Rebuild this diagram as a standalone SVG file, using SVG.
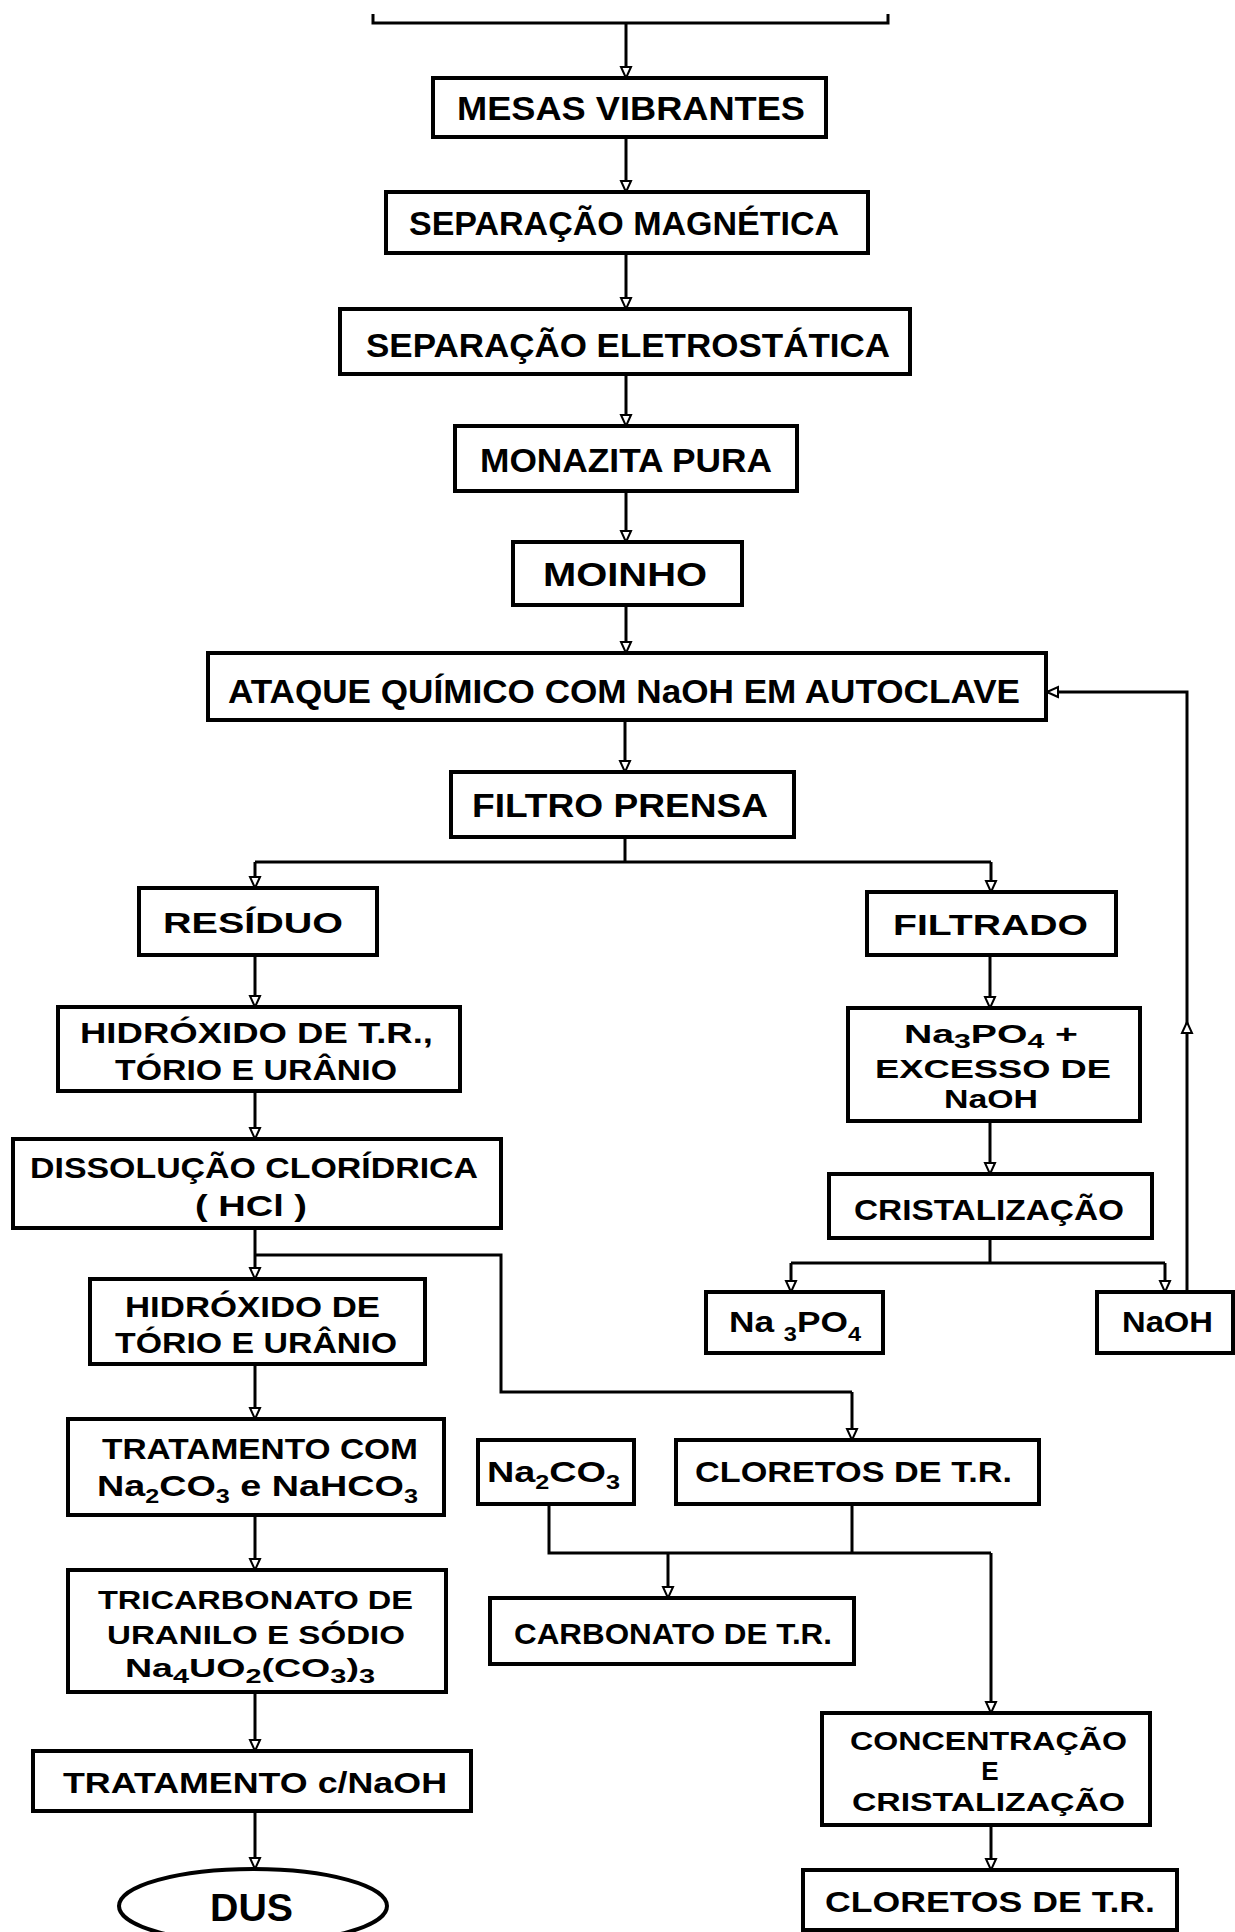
<svg xmlns="http://www.w3.org/2000/svg" width="1235" height="1932" viewBox="0 0 1235 1932">
<style>
.box{fill:#fff;stroke:#000;stroke-width:4}
.ln{fill:none;stroke:#000;stroke-width:3}
.ar{fill:none;stroke:#000;stroke-width:3;marker-end:url(#ah)}
text{font-family:"Liberation Sans",Arial,sans-serif;font-weight:bold;font-size:30px;fill:#000}
.big{font-size:33px}
.sm{font-size:26px}
.sub{font-size:20px}
</style>
<defs>
<marker id="ah" markerUnits="userSpaceOnUse" markerWidth="14" markerHeight="14" refX="11" refY="5" orient="auto" viewBox="-2 -2 14 14">
<path d="M0,0 L11,5 L0,10 Z" fill="#fff" stroke="#000" stroke-width="2"/>
</marker>
</defs>
<rect width="1235" height="1932" fill="#fff"/>
<g id="connectors">
<path class="ln" d="M373,14 V23 H888 V14"/>
<path class="ar" d="M626,23 V78"/>
<path class="ar" d="M626,137 V192"/>
<path class="ar" d="M626,253 V309"/>
<path class="ar" d="M626,374 V426"/>
<path class="ar" d="M626,491 V542"/>
<path class="ar" d="M626,605 V653"/>
<path class="ar" d="M625,720 V772"/>
<path class="ln" d="M625,837 V862"/>
<path class="ln" d="M255,862 H991"/>
<path class="ar" d="M255,862 V888"/>
<path class="ar" d="M991,862 V892"/>
<path class="ar" d="M255,955 V1007"/>
<path class="ar" d="M255,1091 V1139"/>
<path class="ar" d="M255,1228 V1279"/>
<path class="ln" d="M255,1255 H501 V1392 H852"/>
<path class="ar" d="M852,1392 V1440"/>
<path class="ar" d="M255,1364 V1419"/>
<path class="ar" d="M255,1515 V1570"/>
<path class="ar" d="M255,1692 V1751"/>
<path class="ar" d="M255,1811 V1869"/>
<path class="ar" d="M990,955 V1008"/>
<path class="ar" d="M990,1121 V1174"/>
<path class="ln" d="M990,1238 V1263 M791,1263 H1165"/>
<path class="ar" d="M791,1263 V1292"/>
<path class="ar" d="M1165,1263 V1292"/>
<path class="ar" d="M1187,1292 V1022"/>
<path class="ar" d="M1187,1022 V692 H1047"/>
<path class="ln" d="M549,1504 V1553 H991 M852,1504 V1553"/>
<path class="ar" d="M668,1553 V1598"/>
<path class="ar" d="M991,1553 V1713"/>
<path class="ar" d="M991,1825 V1870"/>
</g>
<g id="mesas"><rect class="box" x="433" y="78" width="393" height="59"/><text class="big" x="457" y="120" textLength="348" lengthAdjust="spacingAndGlyphs">MESAS VIBRANTES</text></g>
<g id="sepmag"><rect class="box" x="386" y="192" width="482" height="61"/><text class="big" x="409" y="235" textLength="430" lengthAdjust="spacingAndGlyphs">SEPARAÇÃO MAGNÉTICA</text></g>
<g id="sepelet"><rect class="box" x="340" y="309" width="570" height="65"/><text class="big" x="366" y="357" textLength="524" lengthAdjust="spacingAndGlyphs">SEPARAÇÃO ELETROSTÁTICA</text></g>
<g id="monazita"><rect class="box" x="455" y="426" width="342" height="65"/><text class="big" x="480" y="472" textLength="292" lengthAdjust="spacingAndGlyphs">MONAZITA PURA</text></g>
<g id="moinho"><rect class="box" x="513" y="542" width="229" height="63"/><text class="big" x="543" y="586" textLength="164" lengthAdjust="spacingAndGlyphs">MOINHO</text></g>
<g id="ataque"><rect class="box" x="208" y="653" width="838" height="67"/><text class="big" x="228" y="703" textLength="792" lengthAdjust="spacingAndGlyphs">ATAQUE QUÍMICO COM NaOH EM AUTOCLAVE</text></g>
<g id="filtro"><rect class="box" x="451" y="772" width="343" height="65"/><text class="big" x="472" y="817" textLength="296" lengthAdjust="spacingAndGlyphs">FILTRO PRENSA</text></g>
<g id="residuo"><rect class="box" x="139" y="888" width="238" height="67"/><text x="163" y="933" textLength="180" lengthAdjust="spacingAndGlyphs">RESÍDUO</text></g>
<g id="filtrado"><rect class="box" x="867" y="892" width="249" height="63"/><text x="893" y="935" textLength="195" lengthAdjust="spacingAndGlyphs">FILTRADO</text></g>
<g id="hidroxido-tr"><rect class="box" x="58" y="1007" width="402" height="84"/><text x="80" y="1043" textLength="353" lengthAdjust="spacingAndGlyphs">HIDRÓXIDO DE T.R.,</text><text x="115" y="1080" textLength="282" lengthAdjust="spacingAndGlyphs">TÓRIO E URÂNIO</text></g>
<g id="dissolucao"><rect class="box" x="13" y="1139" width="488" height="89"/><text x="30" y="1178" textLength="448" lengthAdjust="spacingAndGlyphs">DISSOLUÇÃO CLORÍDRICA</text><text x="195" y="1216" textLength="112" lengthAdjust="spacingAndGlyphs">( HCl )</text></g>
<g id="hidroxido-tu"><rect class="box" x="90" y="1279" width="335" height="85"/><text x="125" y="1317" textLength="255" lengthAdjust="spacingAndGlyphs">HIDRÓXIDO DE</text><text x="115" y="1353" textLength="282" lengthAdjust="spacingAndGlyphs">TÓRIO E URÂNIO</text></g>
<g id="tratamento-com"><rect class="box" x="68" y="1419" width="376" height="96"/><text x="102" y="1459" textLength="316" lengthAdjust="spacingAndGlyphs">TRATAMENTO COM</text><text x="97" y="1496" textLength="321" lengthAdjust="spacingAndGlyphs">Na<tspan class="sub" dy="7">2</tspan><tspan dy="-7">CO</tspan><tspan class="sub" dy="7">3</tspan><tspan dy="-7"> e NaHCO</tspan><tspan class="sub" dy="7">3</tspan></text></g>
<g id="tricarbonato"><rect class="box" x="68" y="1570" width="378" height="122"/><text class="sm" x="98" y="1609" textLength="315" lengthAdjust="spacingAndGlyphs">TRICARBONATO DE</text><text class="sm" x="107" y="1644" textLength="298" lengthAdjust="spacingAndGlyphs">URANILO E SÓDIO</text><text class="sm" x="125" y="1677" textLength="250" lengthAdjust="spacingAndGlyphs">Na<tspan class="sub" dy="6">4</tspan><tspan dy="-6">UO</tspan><tspan class="sub" dy="6">2</tspan><tspan dy="-6">(CO</tspan><tspan class="sub" dy="6">3</tspan><tspan dy="-6">)</tspan><tspan class="sub" dy="6">3</tspan></text></g>
<g id="tratamento-naoh"><rect class="box" x="33" y="1751" width="438" height="60"/><text x="63" y="1793" textLength="384" lengthAdjust="spacingAndGlyphs">TRATAMENTO c/NaOH</text></g>
<g id="dus"><ellipse class="box" cx="253" cy="1906" rx="134" ry="37"/><text x="210" y="1921" style="font-size:38px" textLength="83" lengthAdjust="spacingAndGlyphs">DUS</text></g>
<g id="na3po4-excesso"><rect class="box" x="848" y="1008" width="292" height="113"/><text class="sm" x="904" y="1043" textLength="174" lengthAdjust="spacingAndGlyphs">Na<tspan class="sub" dy="5">3</tspan><tspan dy="-5">PO</tspan><tspan class="sub" dy="5">4</tspan><tspan dy="-5"> +</tspan></text><text class="sm" x="875" y="1078" textLength="236" lengthAdjust="spacingAndGlyphs">EXCESSO DE</text><text class="sm" x="944" y="1108" textLength="94" lengthAdjust="spacingAndGlyphs">NaOH</text></g>
<g id="cristalizacao"><rect class="box" x="829" y="1174" width="323" height="64"/><text x="854" y="1220" textLength="270" lengthAdjust="spacingAndGlyphs">CRISTALIZAÇÃO</text></g>
<g id="na3po4"><rect class="box" x="706" y="1292" width="177" height="61"/><text x="729" y="1332" textLength="132" lengthAdjust="spacingAndGlyphs">Na <tspan class="sub" dy="9">3</tspan><tspan dy="-9">PO</tspan><tspan class="sub" dy="9">4</tspan></text></g>
<g id="naoh"><rect class="box" x="1097" y="1292" width="136" height="61"/><text x="1122" y="1332" textLength="91" lengthAdjust="spacingAndGlyphs">NaOH</text></g>
<g id="na2co3"><rect class="box" x="478" y="1440" width="156" height="64"/><text x="487" y="1482" textLength="133" lengthAdjust="spacingAndGlyphs">Na<tspan class="sub" dy="7">2</tspan><tspan dy="-7">CO</tspan><tspan class="sub" dy="7">3</tspan></text></g>
<g id="cloretos"><rect class="box" x="676" y="1440" width="363" height="64"/><text x="695" y="1482" textLength="317" lengthAdjust="spacingAndGlyphs">CLORETOS DE T.R.</text></g>
<g id="carbonato"><rect class="box" x="490" y="1598" width="364" height="66"/><text x="514" y="1644" textLength="318" lengthAdjust="spacingAndGlyphs">CARBONATO DE T.R.</text></g>
<g id="concentracao"><rect class="box" x="822" y="1713" width="328" height="112"/><text class="sm" x="850" y="1750" textLength="277" lengthAdjust="spacingAndGlyphs">CONCENTRAÇÃO</text><text class="sm" x="990" y="1780" text-anchor="middle">E</text><text class="sm" x="852" y="1811" textLength="273" lengthAdjust="spacingAndGlyphs">CRISTALIZAÇÃO</text></g>
<g id="cloretos-final"><rect class="box" x="803" y="1870" width="374" height="60"/><text x="825" y="1912" textLength="330" lengthAdjust="spacingAndGlyphs">CLORETOS DE T.R.</text></g>
</svg>
